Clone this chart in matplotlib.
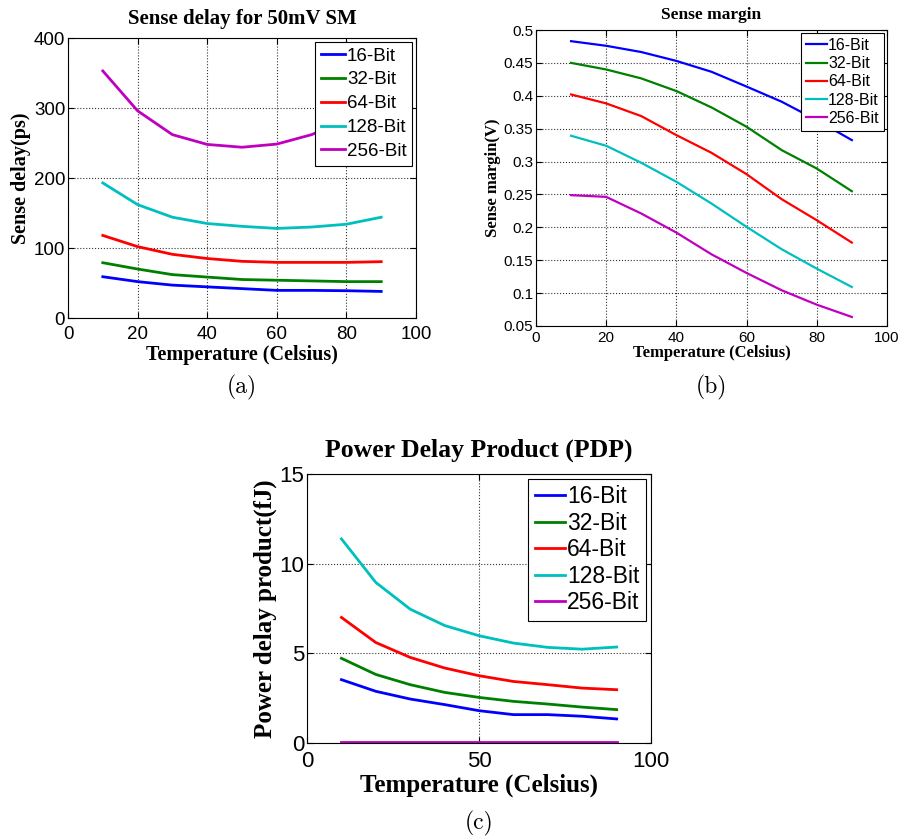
import matplotlib
matplotlib.use('Agg')
import matplotlib.pyplot as plt

# temperature points (Celsius)
temps = [10, 20, 30, 40, 50, 60, 70, 80, 90]
labels = ['16-Bit', '32-Bit', '64-Bit', '128-Bit', '256-Bit']
colors = ['#0000ff', '#008000', '#ff0000', '#00bfbf', '#bf00bf']

# (a) sense delay (ps)
delay_16 = [59, 52, 47, 44.5, 42, 39.5, 39.5, 39, 38]
delay_32 = [79, 70, 62, 58.5, 55, 54, 53, 52, 52]
delay_64 = [118, 102, 91, 85, 81, 79.5, 79.5, 79.5, 80.5]
delay_128 = [193, 162, 144, 135, 131, 128, 130, 134, 144]
delay_256 = [353, 296, 262, 248, 244, 248.5, 262, 283, 318]

# (b) sense margin (V)
sm_16 = [0.483, 0.476, 0.4665, 0.453, 0.4365, 0.414, 0.391, 0.363, 0.3326]
sm_32 = [0.450, 0.440, 0.4264, 0.4072, 0.3823, 0.3529, 0.3174, 0.2894, 0.2549]
sm_64 = [0.402, 0.3884, 0.3691, 0.3402, 0.3133, 0.2808, 0.2428, 0.2108, 0.1768]
sm_128 = [0.3392, 0.324, 0.2981, 0.2692, 0.2362, 0.2007, 0.1667, 0.1372, 0.1093]
sm_256 = [0.2489, 0.2463, 0.221, 0.192, 0.159, 0.1306, 0.1043, 0.0824, 0.0637]

# (c) power delay product (fJ)
pdp_16 = [3.53, 2.88, 2.45, 2.14, 1.80, 1.58, 1.58, 1.49, 1.34]
pdp_32 = [4.72, 3.82, 3.25, 2.82, 2.54, 2.32, 2.17, 2.00, 1.86]
pdp_64 = [7.00, 5.60, 4.77, 4.18, 3.75, 3.43, 3.25, 3.06, 2.97]
pdp_128 = [11.38, 8.95, 7.46, 6.55, 5.98, 5.57, 5.33, 5.23, 5.35]
pdp_256 = [0.03, 0.03, 0.03, 0.03, 0.03, 0.03, 0.03, 0.03, 0.03]

sm_ticks = [0.05, 0.1, 0.15, 0.2, 0.25, 0.3, 0.35, 0.4, 0.45, 0.5]
sm_ticklabels = ['0.05', '0.1', '0.15', '0.2', '0.25', '0.3', '0.35', '0.4', '0.45', '0.5']

sans = 'Liberation Sans'
serif = 'Liberation Serif'

fig = plt.figure(figsize=(9.02, 8.38), dpi=100)


def panel(rect, series, lw, tick_fs, lab_fs, title_fs, leg_fs, title, ylabel,
          ylim, yticks, yticklabels, xticks, caption, cap_y,
          title_pad, tick_pad, xlab_pad, leg_space):
    ax = fig.add_axes(rect)
    for ys, lab, c in zip(series, labels, colors):
        ax.plot(temps, ys, color=c, lw=lw, label=lab)
    ax.set_xlim(0, 100)
    ax.set_ylim(*ylim)
    ax.set_xticks(xticks)
    ax.set_xticklabels([str(v) for v in xticks], fontfamily=sans)
    ax.set_yticks(yticks)
    ax.set_yticklabels(yticklabels, fontfamily=sans)
    ax.grid(True, linestyle=':', color='0.2', linewidth=0.8)
    ax.tick_params(direction='in', top=True, right=True, length=4,
                   labelsize=tick_fs)
    ax.tick_params(axis='x', pad=tick_pad)
    ax.tick_params(axis='y', pad=2)
    for s in ax.spines.values():
        s.set_linewidth(0.8)
    ax.set_title(title, fontfamily=serif, fontweight='bold', fontsize=title_fs,
                 pad=title_pad)
    ax.set_xlabel('Temperature (Celsius)', fontfamily=serif, fontweight='bold',
                  fontsize=lab_fs, labelpad=xlab_pad)
    ax.set_ylabel(ylabel, fontfamily=serif, fontweight='bold', fontsize=lab_fs,
                  labelpad=2)
    leg = ax.legend(loc='upper right', prop={'family': sans, 'size': leg_fs},
                    fancybox=False, edgecolor='black', framealpha=1,
                    handlelength=1.3, handletextpad=0.1, labelspacing=leg_space,
                    borderpad=0.3, borderaxespad=0.2)
    leg.get_frame().set_linewidth(0.8)
    cx = rect[0] + rect[2] / 2
    fig.text(cx, cap_y, caption, ha='center', va='center',
             fontfamily='cmr10', fontsize=17)
    return ax


panel([0.0754, 0.6205, 0.3858, 0.3341],
      [delay_16, delay_32, delay_64, delay_128, delay_256],
      2.0, 13.5, 14.5, 15, 13.5, 'Sense delay for 50mV SM', 'Sense delay(ps)',
      (0, 400), [0, 100, 200, 300, 400], ['0', '100', '200', '300', '400'],
      [0, 20, 40, 60, 80, 100], '(a)', 1 - 387 / 838,
      10, 5.5, 1.5, 0.36)

panel([0.5942, 0.6110, 0.3891, 0.3532],
      [sm_16, sm_32, sm_64, sm_128, sm_256],
      1.6, 11, 12, 12.5, 11.5, 'Sense margin', 'Sense margin(V)',
      (0.05, 0.5), sm_ticks, sm_ticklabels,
      [0, 20, 40, 60, 80, 100], '(b)', 1 - 387 / 838,
      8, 3.5, 0, 0.2)

panel([0.3404, 0.1134, 0.3814, 0.3210],
      [pdp_16, pdp_32, pdp_64, pdp_128, pdp_256],
      2.0, 16, 18, 18.5, 16.5, 'Power Delay Product (PDP)',
      'Power delay product(fJ)',
      (0, 15), [0, 5, 10, 15], ['0', '5', '10', '15'], [0, 50, 100],
      '(c)', 1 - 823 / 838,
      12.5, 5.6, 1, 0.15)

fig.savefig('out.png', dpi=100)
